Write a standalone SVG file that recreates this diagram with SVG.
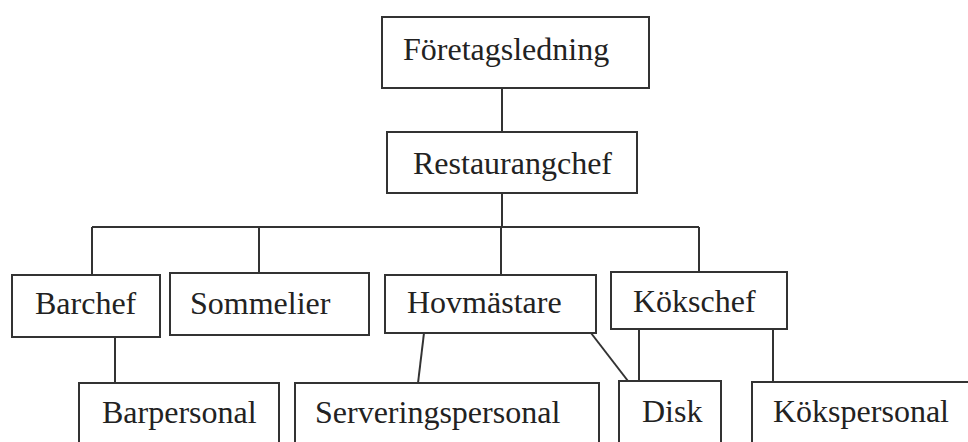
<svg xmlns="http://www.w3.org/2000/svg" width="968" height="442" viewBox="0 0 968 442">
<style>
rect{fill:#fff;stroke:#333;stroke-width:2}
text{font-family:"Liberation Serif","Times New Roman",serif;font-size:32px;fill:#222}
#connectors path{fill:none;stroke:#333;stroke-width:2}
</style>
<rect x="0" y="0" width="968" height="442" style="stroke:none"/>
<g id="connectors">
<path d="M502 88V132"/>
<path d="M502 193V227"/>
<path d="M92 227H699"/>
<path d="M92 227V275"/>
<path d="M259 227V273"/>
<path d="M501 227V275"/>
<path d="M699 227V272"/>
<path d="M115 337V383"/>
<path d="M424 333L418 383"/>
<path d="M591 333L628 381"/>
<path d="M639 329V381"/>
<path d="M773 329V382"/>
</g>
<g id="foretagsledning"><rect x="382" y="17" width="267" height="71"/><text x="403" y="60">Företagsledning</text></g>
<g id="restaurangchef"><rect x="387" y="132" width="250" height="61"/><text x="413" y="174">Restaurangchef</text></g>
<g id="barchef"><rect x="12" y="275" width="148" height="62"/><text x="35" y="314">Barchef</text></g>
<g id="sommelier"><rect x="170" y="273" width="199" height="62"/><text x="190" y="314">Sommelier</text></g>
<g id="hovmastare"><rect x="385" y="275" width="211" height="58"/><text x="407" y="313">Hovmästare</text></g>
<g id="kokschef"><rect x="611" y="272" width="176" height="57"/><text x="633" y="312">Kökschef</text></g>
<g id="barpersonal"><rect x="79" y="383" width="200" height="80"/><text x="102" y="423">Barpersonal</text></g>
<g id="serveringspersonal"><rect x="295" y="383" width="304" height="80"/><text x="315" y="423">Serveringspersonal</text></g>
<g id="disk"><rect x="619" y="381" width="102" height="80"/><text x="642" y="422">Disk</text></g>
<g id="kokspersonal"><rect x="752" y="382" width="230" height="80"/><text x="773" y="422">Kökspersonal</text></g>
</svg>
